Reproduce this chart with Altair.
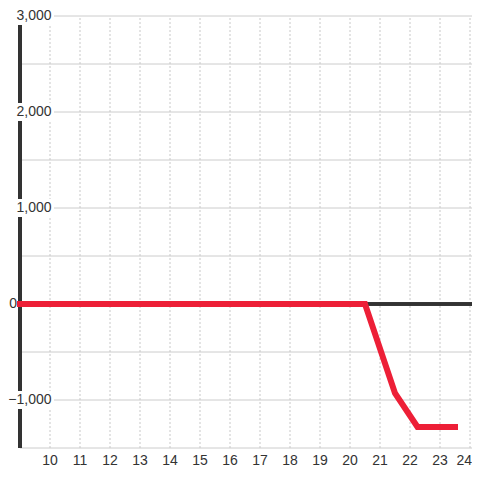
import altair as alt
import pandas as pd

# data
line_x = [9.0, 20.5, 21.5, 22.25, 23.5]
line_y = [0, 0, -930, -1280, -1280]
x_ticks = list(range(10, 24))
x_last_tick = [24]
y_grid = [-1500, -1000, -500, 0, 500, 1000, 1500, 2000, 2500, 3000]
y_labels = [-1000, 1000, 2000, 3000]
zero_label = [0]

W, H = 452, 432
X_DOMAIN = [9, 9 + W / 30]
Y_DOMAIN = [-1500, 3000]

line_df = pd.DataFrame({"x": line_x, "y": line_y})
xt_df = pd.DataFrame({"t": x_ticks})
xl_df = pd.DataFrame({"t": x_last_tick})
xall_df = pd.DataFrame({"t": x_ticks + x_last_tick})
yg_df = pd.DataFrame({"g": y_grid})
lab_df = pd.DataFrame({"v": y_labels})
zero_df = pd.DataFrame({"v": zero_label})

xs = alt.Scale(domain=X_DOMAIN, nice=False, zero=False)
ys = alt.Scale(domain=Y_DOMAIN, nice=False, zero=False)

FONT = "Liberation Sans"
FS = 14
TXT = "#333333"

hgrid = alt.Chart(yg_df).mark_rule(color="#cccccc", strokeWidth=1).encode(
    y=alt.Y("g:Q", scale=ys, axis=None),
    x=alt.datum(X_DOMAIN[0], scale=xs, axis=None),
    x2=alt.datum(X_DOMAIN[1]),
)

vgrid = alt.Chart(xall_df).mark_rule(color="#c8c8c8", strokeWidth=1,
                                     strokeDash=[2, 2]).encode(
    x=alt.X("t:Q", scale=xs, axis=None),
    y=alt.datum(Y_DOMAIN[0]),
    y2=alt.datum(Y_DOMAIN[1]),
)

xlabels = alt.Chart(xt_df).mark_text(
    align="center", baseline="middle", fontSize=FS, color=TXT, font=FONT
).encode(
    x=alt.X("t:Q", scale=xs),
    y=alt.value(H + 13),
    text=alt.Text("t:Q", format="d"),
)

xlast = alt.Chart(xl_df).mark_text(
    align="right", baseline="middle", fontSize=FS, color=TXT, font=FONT
).encode(
    x=alt.value(W),
    y=alt.value(H + 13),
    text=alt.Text("t:Q", format="d"),
)

axis_line = alt.Chart(line_df).mark_rule(color="#333333", strokeWidth=3.5).encode(
    x=alt.datum(9),
    y=alt.datum(Y_DOMAIN[0]),
    y2=alt.datum(Y_DOMAIN[1]),
)

zero_line = alt.Chart(line_df).mark_rule(color="#333333", strokeWidth=3).encode(
    y=alt.datum(0),
    x=alt.datum(X_DOMAIN[0]),
    x2=alt.datum(X_DOMAIN[1]),
)

red = alt.Chart(line_df).mark_line(color="#ED1F37", strokeWidth=6,
                                   strokeCap="square", strokeJoin="miter").encode(
    x=alt.X("x:Q", scale=xs),
    y=alt.Y("y:Q", scale=ys),
)

boxes = alt.Chart(lab_df).transform_calculate(
    lo="datum.v - 95", hi="datum.v + 95"
).mark_rect(color="white").encode(
    x=alt.value(-12), x2=alt.value(34),
    y=alt.Y("lo:Q", scale=ys), y2="hi:Q",
)

labels = alt.Chart(lab_df).mark_text(
    align="right", baseline="middle", fontSize=FS, color=TXT, font=FONT
).encode(
    x=alt.value(31.5),
    y=alt.Y("v:Q", scale=ys),
    text=alt.Text("v:Q", format=","),
)

zlabel = alt.Chart(zero_df).mark_text(
    align="right", baseline="middle", fontSize=FS, color=TXT, font=FONT
).encode(
    x=alt.value(-3),
    y=alt.Y("v:Q", scale=ys),
    text=alt.Text("v:Q", format=","),
)

chart = alt.layer(hgrid, vgrid, xlabels, xlast, axis_line, zero_line, red, boxes,
                  labels, zlabel).properties(
    width=W, height=H,
    autosize=alt.AutoSizeParams(type="none"),
    padding={"left": 12, "top": 8, "right": 0, "bottom": 20},
).configure_view(stroke=None)

chart.save("out.html", embed_options={"renderer": "svg", "actions": False})
